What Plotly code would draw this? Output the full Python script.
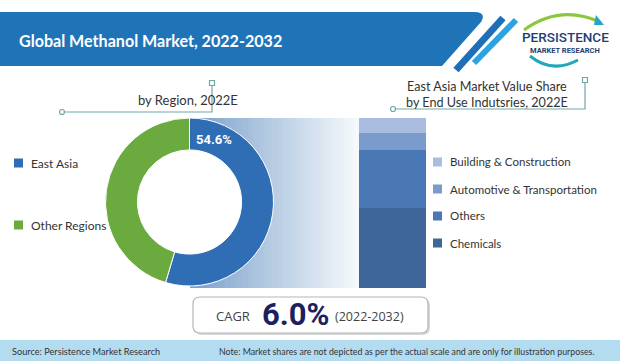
import plotly.graph_objects as go

W, H = 620, 361

# ---------------- data ----------------
title_text = "Global Methanol Market, 2022-2032"

region_labels = ["East Asia", "Other Regions"]
region_values = [54.6, 45.4]
region_colors = ["#2F6EB5", "#6AAA3F"]
region_title = "by Region, 2022E"

enduse_labels = ["Chemicals", "Others", "Automotive & Transportation", "Building & Construction"]
enduse_values = [47, 34, 10, 9]
enduse_colors = ["#3E6699", "#4A78B4", "#7B9BCD", "#AABDE0"]
enduse_title = ["East Asia Market Value Share", "by End Use Indutsries, 2022E"]

cagr_label = "CAGR"
cagr_value = "6.0%"
cagr_period = "(2022-2032)"
source_text = "Source: Persistence Market Research"
note_text = "Note: Market shares are not depicted as per the actual scale and are only for illustration purposes."

# ---------------- helpers ----------------
def X(p):
    return p / W

def Y(p):
    return 1 - p / H

def path(points, close=True):
    s = "M " + " L ".join(f"{X(x):.5f},{Y(y):.5f}" for x, y in points)
    return s + (" Z" if close else "")

BODY_FONT = "Lato, 'Open Sans', sans-serif"
TEXT_COL = "#333333"
TEAL = "#6FA9A6"

shapes = []
annotations = []

def rect(x0, y0, x1, y1, fill, layer="below", line=None):
    shapes.append(dict(type="rect", xref="paper", yref="paper",
                       x0=X(x0), x1=X(x1), y0=Y(y1), y1=Y(y0),
                       fillcolor=fill, line=line or dict(width=0), layer=layer))

def text(x, y, t, size=12, color=TEXT_COL, xanchor="left", family=BODY_FONT, weight="normal"):
    annotations.append(dict(x=X(x), y=Y(y), xref="paper", yref="paper", text=t,
                            showarrow=False, xanchor=xanchor, yanchor="middle",
                            font=dict(size=size, color=color, family=family, weight=weight)))

# ---------------- header banner ----------------
shapes.append(dict(type="path", xref="paper", yref="paper",
                   path=f"M {X(0)},{Y(12)} L {X(474)},{Y(12)} Q {X(487)},{Y(12)} {X(481)},{Y(22)} L {X(442)},{Y(66)} L {X(0)},{Y(66)} Z",
                   fillcolor="#1F74B8", line=dict(width=0), layer="below"))
shapes.append(dict(type="line", xref="paper", yref="paper", x0=X(456), y0=Y(70), x1=X(503), y1=Y(18),
                   line=dict(color="#1F6FB8", width=7), layer="below"))
shapes.append(dict(type="line", xref="paper", yref="paper", x0=X(474), y0=Y(63), x1=X(516), y1=Y(20),
                   line=dict(color="#2AA3E0", width=6), layer="below"))
text(17, 40, title_text, size=16.1, color="white", family="Lato, 'Open Sans', sans-serif", weight="bold")

# logo
shapes.append(dict(type="path", xref="paper", yref="paper",
                   path=f"M {X(524)},{Y(30)} Q {X(560)},{Y(4)} {X(600)},{Y(22)}",
                   line=dict(color="#8CC63F", width=3), layer="below"))
shapes.append(dict(type="path", xref="paper", yref="paper",
                   path=f"M {X(596)},{Y(15)} L {X(604)},{Y(25)} L {X(594)},{Y(25)} Z",
                   fillcolor="#2AA3C8", line=dict(width=0), layer="below"))
shapes.append(dict(type="path", xref="paper", yref="paper",
                   path=f"M {X(530)},{Y(56)} Q {X(552)},{Y(74)} {X(578)},{Y(60)}",
                   line=dict(color="#22A7B8", width=3), layer="below"))
text(565, 37, "PERSISTENCE", size=13.5, color="#1D3F73",
     family="Roboto, sans-serif", xanchor="center", weight=500)
text(565, 50, "MARKET RESEARCH", size=7.5, color="#1D3F73", family="Roboto, sans-serif",
     xanchor="center", weight="bold")

# ---------------- gradient band behind donut ----------------
c0 = (122, 160, 202)
c1 = (246, 249, 252)
gx0, gx1 = 190, 359
N = 70
for i in range(N):
    t = i / (N - 1)
    col = tuple(round(a + (b - a) * t) for a, b in zip(c0, c1))
    xa = gx0 + (gx1 - gx0) * i / N
    xb = gx0 + (gx1 - gx0) * (i + 1) / N + 0.6
    rect(xa, 118, xb, 288, f"rgb{col}")
# white donut hole over the gradient (below the pie itself)
shapes.append(dict(type="circle", xref="paper", yref="paper",
                   x0=X(189.5 - 53), x1=X(189.5 + 53), y0=Y(202 + 53), y1=Y(202 - 53),
                   fillcolor="white", line=dict(width=0), layer="below"))

# ---------------- connectors & headings ----------------
def connector(xs, xe, yl, ytop):
    shapes.append(dict(type="path", xref="paper", yref="paper",
                       path=path([(xs, yl), (xe, yl), (xe, ytop)], close=False),
                       line=dict(color=TEAL, width=1.2), layer="below"))
    shapes.append(dict(type="circle", xref="paper", yref="paper",
                       x0=X(xs - 2.5), x1=X(xs + 2.5), y0=Y(yl + 2.5), y1=Y(yl - 2.5),
                       fillcolor="white", line=dict(color=TEAL, width=1.2), layer="above"))
    shapes.append(dict(type="rect", xref="paper", yref="paper",
                       x0=X(xe - 2.5), x1=X(xe + 2.5), y0=Y(ytop + 2.5), y1=Y(ytop - 2.5),
                       fillcolor="white", line=dict(color=TEAL, width=1.2), layer="above"))

connector(62, 212, 112, 83)
text(136, 100, region_title, size=13)

connector(393, 585, 109, 80)
text(487, 95, "<br>".join(enduse_title), size=12.6, xanchor="center")

# ---------------- legends ----------------
for lab, col, yy in zip(region_labels, region_colors, [163, 225]):
    rect(14, yy - 4.5, 23, yy + 4.5, col, layer="above")
    text(29, yy, lab, size=12)

for lab, col, yy in zip(enduse_labels[::-1], enduse_colors[::-1], [162, 189, 216, 243]):
    rect(433, yy - 4.5, 442, yy + 4.5, col, layer="above")
    text(448, yy, lab, size=11.5)

# ---------------- CAGR box ----------------
def rounded_rect(x0, y0, x1, y1, r):
    return (f"M {X(x0 + r)},{Y(y0)} L {X(x1 - r)},{Y(y0)} Q {X(x1)},{Y(y0)} {X(x1)},{Y(y0 + r)} "
            f"L {X(x1)},{Y(y1 - r)} Q {X(x1)},{Y(y1)} {X(x1 - r)},{Y(y1)} "
            f"L {X(x0 + r)},{Y(y1)} Q {X(x0)},{Y(y1)} {X(x0)},{Y(y1 - r)} "
            f"L {X(x0)},{Y(y0 + r)} Q {X(x0)},{Y(y0)} {X(x0 + r)},{Y(y0)} Z")

shapes.append(dict(type="path", xref="paper", yref="paper", path=rounded_rect(195, 299, 430, 335, 7),
                   fillcolor="#D8D8D8", line=dict(width=0), layer="below"))
shapes.append(dict(type="path", xref="paper", yref="paper", path=rounded_rect(193, 297, 428, 333, 7),
                   fillcolor="white", line=dict(color="#B5B5B5", width=1.2), layer="below"))
text(233, 316, cagr_label, size=13, color="#444444", xanchor="center", family="'Open Sans', sans-serif")
text(295, 314, cagr_value, size=31, color="#1E1F5E", xanchor="center", family="Roboto, sans-serif", weight="bold")
text(369, 316, cagr_period, size=12.5, color="#444444", xanchor="center", family="'Open Sans', sans-serif")

# ---------------- footer ----------------
rect(0, 340, 620, 361, "#B3DCF1")
text(10, 351, source_text, size=9.2)
text(217, 351, note_text, size=8.8)

# ---------------- traces ----------------
fig = go.Figure()

fig.add_trace(go.Pie(
    labels=region_labels, values=region_values, hole=0.62, sort=False,
    direction="clockwise", rotation=0,
    marker=dict(colors=region_colors, line=dict(color="white", width=1)),
    textinfo="none", showlegend=False,
    domain=dict(x=[X(105), X(274)], y=[Y(286), Y(118)]),
))

for lab, val, col in zip(enduse_labels, enduse_values, enduse_colors):
    fig.add_trace(go.Bar(x=[0], y=[val], name=lab, width=1, marker=dict(color=col, line=dict(width=0)),
                         showlegend=False, xaxis="x", yaxis="y"))

text(214, 139, f"{region_values[0]}%", size=13, color="white", xanchor="center",
     family="Roboto, sans-serif", weight="bold")

fig.update_layout(
    width=W, height=H, margin=dict(l=0, r=0, t=0, b=0),
    paper_bgcolor="white", plot_bgcolor="rgba(0,0,0,0)",
    barmode="stack", bargap=0,
    xaxis=dict(domain=[X(359), X(426)], range=[-0.5, 0.5], visible=False, fixedrange=True),
    yaxis=dict(domain=[Y(288), Y(118)], range=[0, 100], visible=False, fixedrange=True),
    shapes=shapes, annotations=annotations,
)

fig.write_html("out.html", config=dict(displayModeBar=False),
               post_script="document.body.style.margin='0px';document.body.style.overflow='hidden';")
